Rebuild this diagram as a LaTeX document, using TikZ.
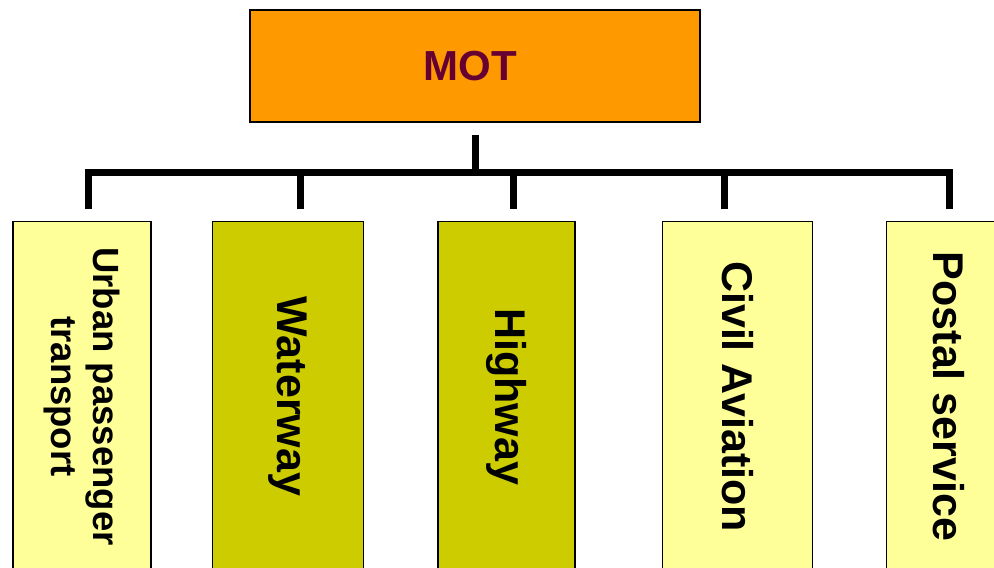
\documentclass[tikz,border=0pt]{standalone}
\usepackage{fontspec}
\setmainfont{Liberation Sans}
\definecolor{motorange}{HTML}{FF9900}
\definecolor{motmaroon}{HTML}{660033}
\definecolor{lightyel}{HTML}{FFFF99}
\definecolor{olive}{HTML}{CCCC00}
\tikzset{
  topbox/.style={draw=black, line width=1.3pt, fill=motorange, minimum width=450pt, minimum height=112pt, inner sep=0pt,
    font=\fontsize{42}{48}\selectfont\bfseries, text=motmaroon},
  unitbox/.style={draw=black, line width=1.3pt, rotate=-90, minimum width=350pt, inner sep=0pt,
    font=\fontsize{43}{48}\selectfont\bfseries, align=center},
  conn/.style={line width=7pt, line cap=butt, line join=miter}
}
\begin{document}
\begin{tikzpicture}[x=1pt,y=1pt]
\useasboundingbox (0,0) rectangle (994,-568);
\fill[white] (0,0) rectangle (994,-568);
\node[topbox] (mot) at (475,-66) {MOT\kern10pt\relax};
\node[unitbox, fill=lightyel, minimum height=138pt, font=\fontsize{36.5}{42}\selectfont\bfseries] (urban) at (82,-396.5) {Urban passenger\\transport};
\node[unitbox, fill=olive, minimum height=150.5pt] (water) at (288,-396.5) {Waterway};
\node[unitbox, fill=olive, minimum height=137pt] (high) at (506.5,-396.5) {Highway};
\node[unitbox, fill=lightyel, minimum height=150pt] (civil) at (737.7,-396.5) {Civil Aviation};
\node[unitbox, fill=lightyel, minimum height=124pt] (postal) at (948.7,-396.5) {Postal service};
\coordinate (stub) at (475.5,-135);
\coordinate (junc) at (475.5,-172);
\coordinate (b1) at (88,-172);
\coordinate (b5) at (949.5,-172);
\coordinate (d1) at (88,-209);
\coordinate (d2) at (300.5,-209);
\coordinate (d3) at (513,-209);
\coordinate (d4) at (724.5,-209);
\coordinate (d5) at (949.5,-209);
\draw[conn] (stub) -- (junc);
\draw[conn] (d1) -- (b1) -- (b5) -- (d5);
\draw[conn] (d2) -- (d2 |- b1);
\draw[conn] (d3) -- (d3 |- b1);
\draw[conn] (d4) -- (d4 |- b1);
\end{tikzpicture}
\end{document}
